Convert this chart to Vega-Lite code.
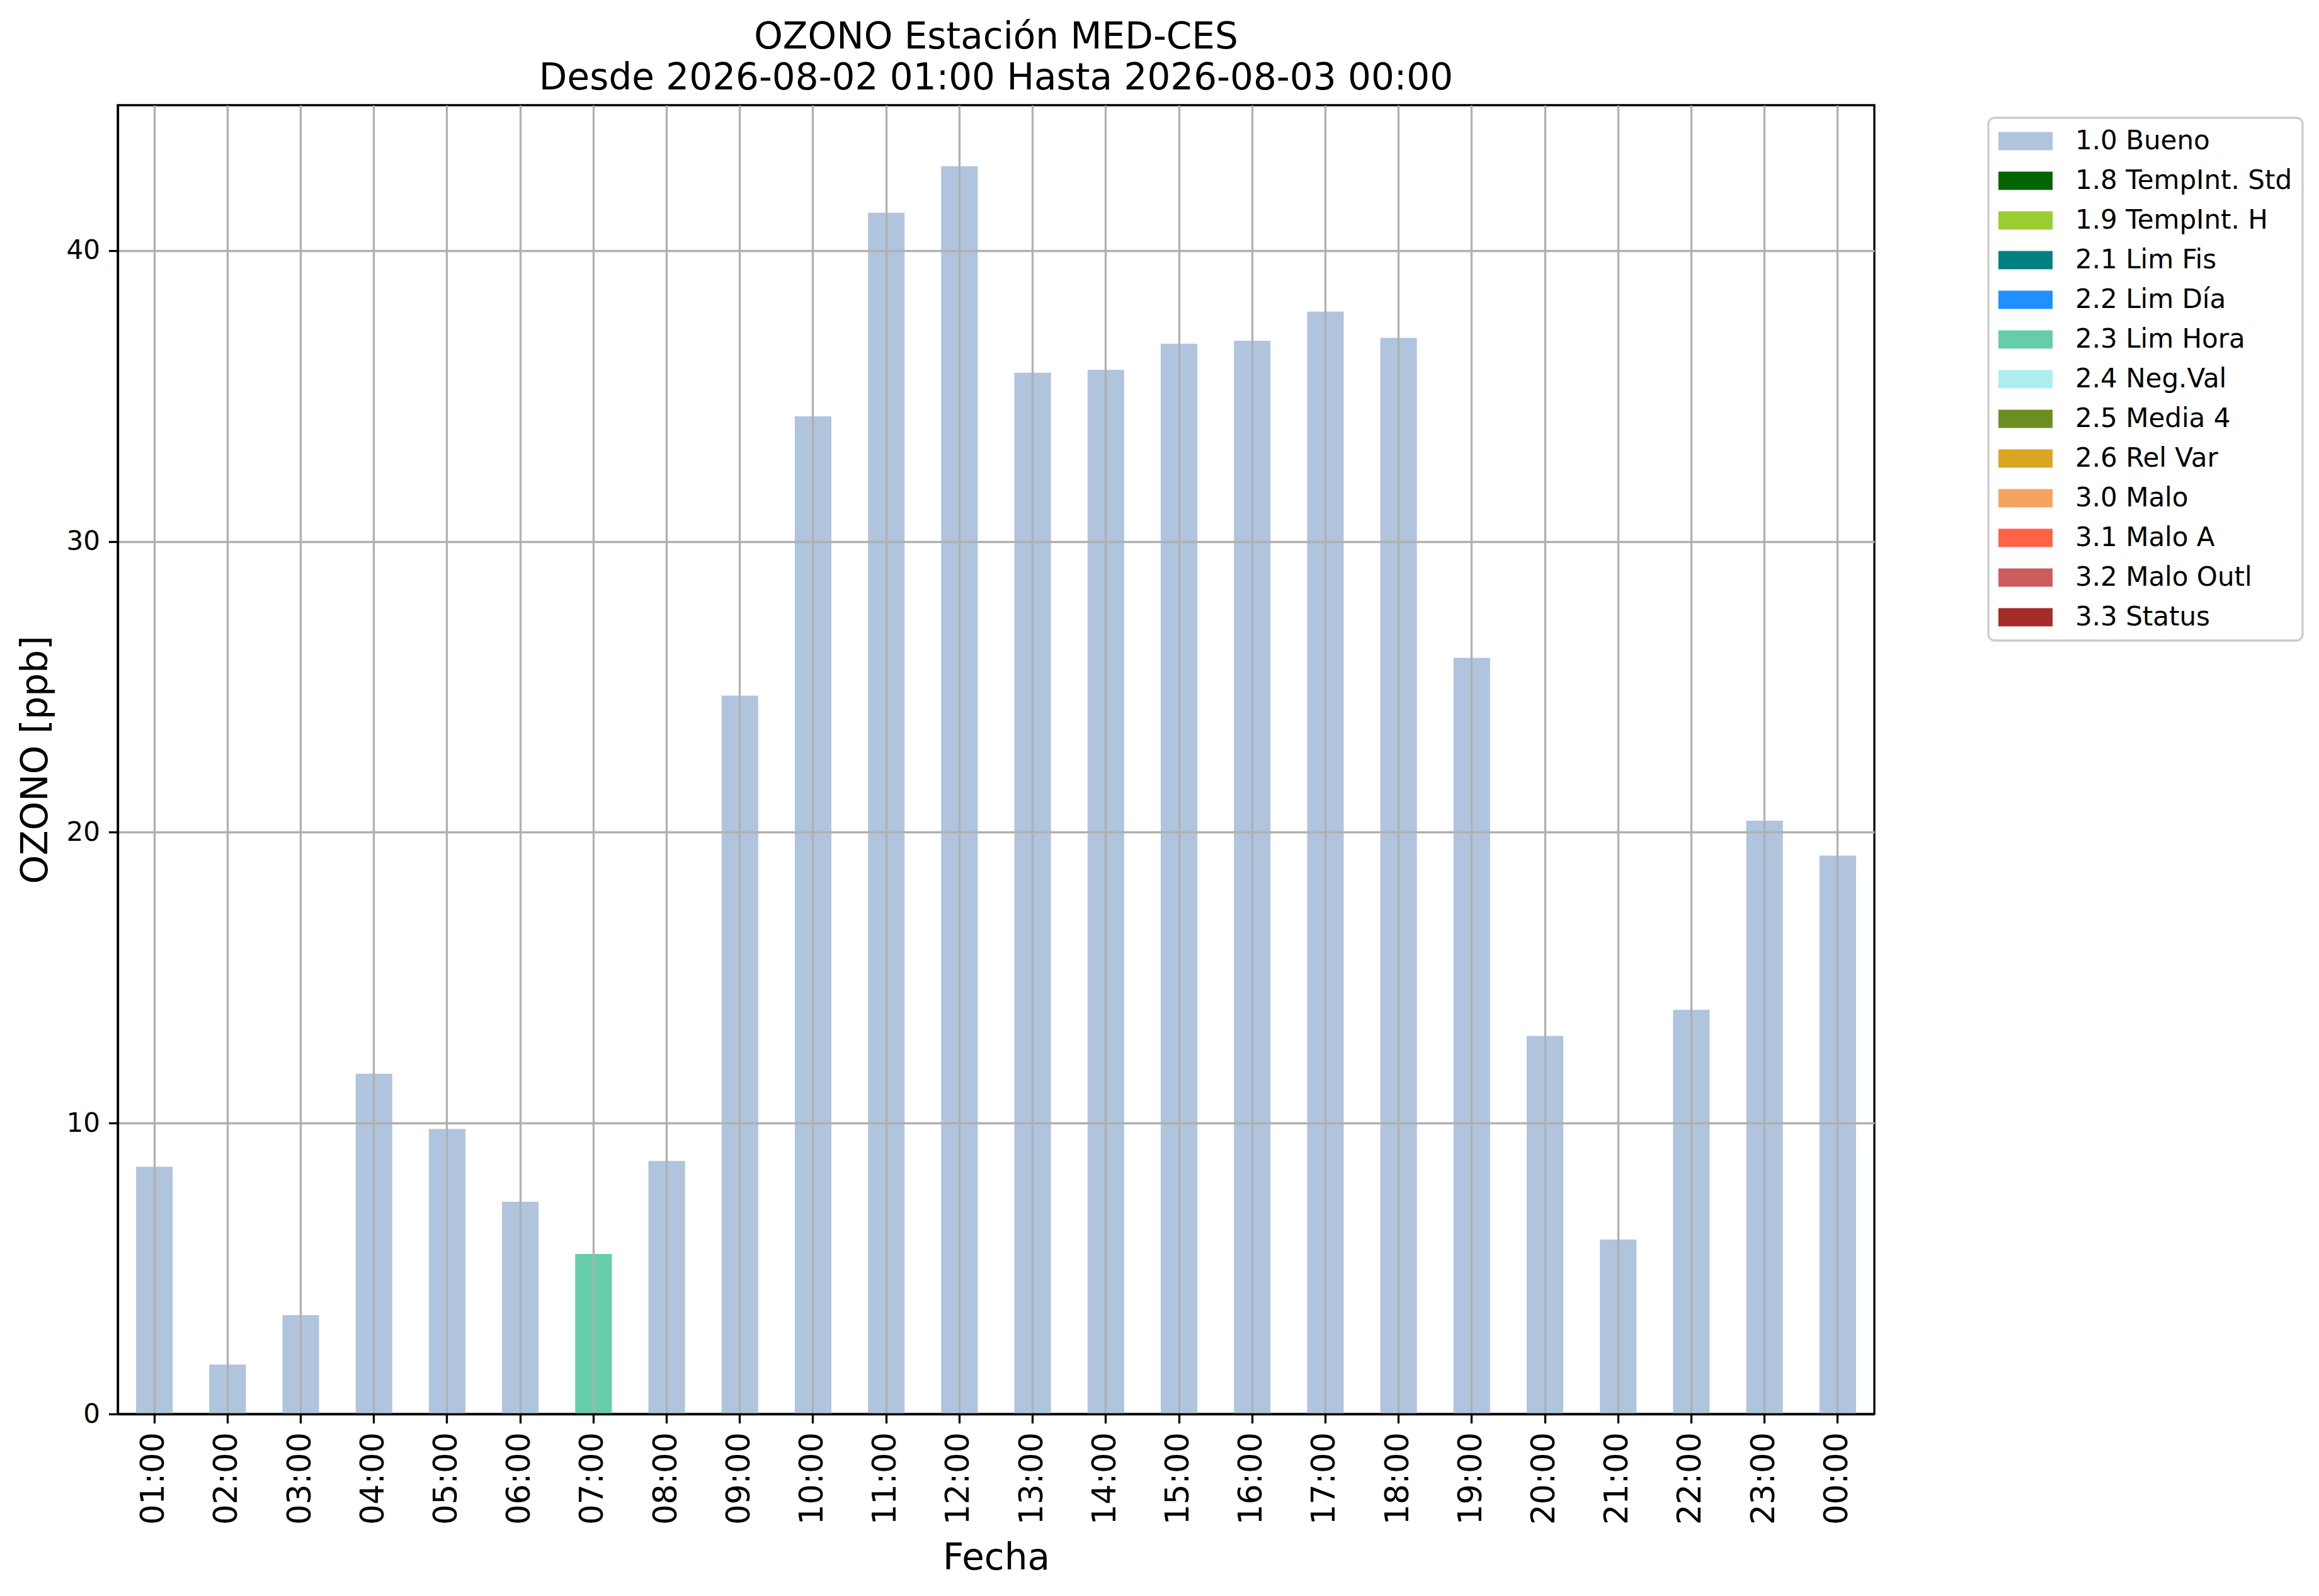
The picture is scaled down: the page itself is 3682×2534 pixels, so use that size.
{
  "$schema": "https://vega.github.io/schema/vega-lite/v6.json",
  "width": 2789,
  "height": 2078,
  "autosize": {"type": "none"},
  "padding": {"left": 187, "top": 167, "right": 706, "bottom": 289},
  "background": "white",
  "title": {
    "text": ["OZONO Estación MED-CES", "Desde 2026-08-02 01:00 Hasta 2026-08-03 00:00"],
    "fontSize": 58,
    "fontWeight": "normal",
    "font": "DejaVu Sans",
    "color": "black",
    "lineHeight": 65,
    "offset": -45,
    "anchor": "middle",
    "frame": "group",
    "baseline": "bottom"
  },
  "data": {
    "values": [
      {"hora": "01:00", "valor": 8.5, "flag": "1.0 Bueno"},
      {"hora": "02:00", "valor": 1.7, "flag": "1.0 Bueno"},
      {"hora": "03:00", "valor": 3.4, "flag": "1.0 Bueno"},
      {"hora": "04:00", "valor": 11.7, "flag": "1.0 Bueno"},
      {"hora": "05:00", "valor": 9.8, "flag": "1.0 Bueno"},
      {"hora": "06:00", "valor": 7.3, "flag": "1.0 Bueno"},
      {"hora": "07:00", "valor": 5.5, "flag": "2.3 Lim Hora"},
      {"hora": "08:00", "valor": 8.7, "flag": "1.0 Bueno"},
      {"hora": "09:00", "valor": 24.7, "flag": "1.0 Bueno"},
      {"hora": "10:00", "valor": 34.3, "flag": "1.0 Bueno"},
      {"hora": "11:00", "valor": 41.3, "flag": "1.0 Bueno"},
      {"hora": "12:00", "valor": 42.9, "flag": "1.0 Bueno"},
      {"hora": "13:00", "valor": 35.8, "flag": "1.0 Bueno"},
      {"hora": "14:00", "valor": 35.9, "flag": "1.0 Bueno"},
      {"hora": "15:00", "valor": 36.8, "flag": "1.0 Bueno"},
      {"hora": "16:00", "valor": 36.9, "flag": "1.0 Bueno"},
      {"hora": "17:00", "valor": 37.9, "flag": "1.0 Bueno"},
      {"hora": "18:00", "valor": 37.0, "flag": "1.0 Bueno"},
      {"hora": "19:00", "valor": 26.0, "flag": "1.0 Bueno"},
      {"hora": "20:00", "valor": 13.0, "flag": "1.0 Bueno"},
      {"hora": "21:00", "valor": 6.0, "flag": "1.0 Bueno"},
      {"hora": "22:00", "valor": 13.9, "flag": "1.0 Bueno"},
      {"hora": "23:00", "valor": 20.4, "flag": "1.0 Bueno"},
      {"hora": "00:00", "valor": 19.2, "flag": "1.0 Bueno"}
    ]
  },
  "mark": {"type": "bar"},
  "encoding": {
    "x": {
      "field": "hora",
      "type": "ordinal",
      "scale": {
        "domain": ["01:00","02:00","03:00","04:00","05:00","06:00","07:00","08:00","09:00","10:00","11:00","12:00","13:00","14:00","15:00","16:00","17:00","18:00","19:00","20:00","21:00","22:00","23:00","00:00"],
        "paddingInner": 0.5,
        "paddingOuter": 0.25
      },
      "axis": {
        "title": "Fecha",
        "titleFontSize": 58,
        "titleFontWeight": "normal",
        "titleColor": "black",
        "titlePadding": 25,
        "labelAngle": 270,
        "labelAlign": "right",
        "labelBaseline": "middle",
        "labelFontSize": 51,
        "labelColor": "black",
        "labelPadding": 14,
        "tickColor": "black",
        "tickWidth": 3.3,
        "tickSize": 14.6,
        "domainColor": "black",
        "domainWidth": 3.3,
        "grid": true,
        "gridColor": "#b0b0b0",
        "gridWidth": 3.3,
        "bandPosition": 0.5,
        "zindex": 1
      }
    },
    "y": {
      "field": "valor",
      "type": "quantitative",
      "stack": null,
      "scale": {"domain": [0, 45], "nice": false},
      "axis": {
        "title": "OZONO [ppb]",
        "titleFontSize": 58,
        "titleFontWeight": "normal",
        "titleColor": "black",
        "titlePadding": 18,
        "values": [0, 10, 20, 30, 40],
        "labelFontSize": 42,
        "labelColor": "black",
        "labelPadding": 14,
        "tickColor": "black",
        "tickWidth": 3.3,
        "tickSize": 14.6,
        "domainColor": "black",
        "domainWidth": 3.3,
        "grid": true,
        "gridColor": "#b0b0b0",
        "gridWidth": 3.3,
        "zindex": 1
      }
    },
    "color": {
      "field": "flag",
      "type": "nominal",
      "scale": {
        "domain": ["1.0 Bueno","1.8 TempInt. Std","1.9 TempInt. H","2.1 Lim Fis","2.2 Lim Día","2.3 Lim Hora","2.4 Neg.Val","2.5 Media 4","2.6 Rel Var","3.0 Malo","3.1 Malo A","3.2 Malo Outl","3.3 Status"],
        "range": ["#b0c4de","#006400","#9acd32","#008080","#1e90ff","#66cdaa","#afeeee","#6b8e23","#daa520","#f4a460","#ff6347","#cd5c5c","#a52a2a"]
      },
      "legend": {
        "title": null,
        "orient": "none",
        "legendX": 2970,
        "legendY": 20,
        "symbolType": "M-1,-0.337L1,-0.337L1,0.337L-1,0.337Z",
        "symbolSize": 7396,
        "symbolStrokeWidth": 0,
        "symbolOpacity": 1,
        "clipHeight": 42,
        "rowPadding": 21,
        "labelFontSize": 42,
        "labelOffset": 36,
        "labelColor": "black",
        "labelLimit": 700,
        "labelBaseline": "middle",
        "padding": 16,
        "strokeColor": "#cccccc",
        "cornerRadius": 10,
        "fillColor": "white",
        "encode": {
          "legend": {"update": {"strokeWidth": {"value": 3.3}}}
        }
      }
    }
  },
  "config": {
    "font": "DejaVu Sans",
    "view": {"stroke": "black", "strokeWidth": 3.3}
  }
}
